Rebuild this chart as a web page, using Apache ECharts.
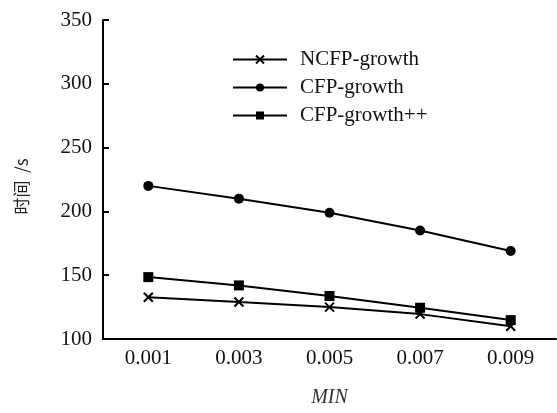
<!DOCTYPE html>
<html><head><meta charset="utf-8">
<script src="https://cdn.jsdelivr.net/npm/echarts@6/dist/echarts.min.js"></script>
<style>html,body{margin:0;padding:0;background:#fff}#c{width:557px;height:413px}</style>
</head><body><div id="c"></div>
<script>
var categories = ['0.001','0.003','0.005','0.007','0.009'];
var ncfp = [132.7, 129, 125, 119.5, 110];
var cfp = [220, 210, 199, 185, 169];
var cfppp = [148.5, 142, 133.7, 124.5, 114.8];
var seriesNames = ['NCFP-growth','CFP-growth','CFP-growth++'];

var chart = echarts.init(document.getElementById('c'));
var serif = '"Liberation Serif", "Times New Roman", serif';
function mk(name, data, symbol, size, extra) {
  return Object.assign({
    name: name, type: 'line', data: data, symbol: symbol, symbolSize: size,
    showAllSymbol: true,
    lineStyle: {color: '#000', width: 2},
    itemStyle: {color: '#000', borderColor: '#000', borderWidth: 0},
    z: 3
  }, extra || {});
}
chart.setOption({
  animation: false,
  grid: {left: 103, right: 1, top: 20, bottom: 67},
  legend: {
    orient: 'vertical', left: 227, top: 44,
    itemWidth: 54, itemHeight: 10, itemGap: 7,
    textStyle: {fontFamily: serif, fontSize: 21, color: '#111', padding: [0, 0, 0, 8]},
    data: seriesNames
  },
  xAxis: {
    type: 'category', data: categories, boundaryGap: true,
    name: 'MIN', nameLocation: 'middle', nameGap: 49,
    nameTextStyle: {fontFamily: serif, fontStyle: 'italic', fontSize: 20, color: '#333'},
    axisLine: {lineStyle: {color: '#000', width: 2}},
    axisTick: {alignWithLabel: true, inside: true, length: 6, lineStyle: {color: '#000', width: 2}},
    axisLabel: {fontFamily: serif, fontSize: 21, color: '#111', margin: 9},
    splitLine: {show: false}
  },
  yAxis: {
    type: 'value', min: 100, max: 350, interval: 50,
    name: '时间  /s', nameLocation: 'middle', nameGap: 73, nameRotate: 90,
    nameTextStyle: {fontFamily: '"Noto Sans CJK SC", sans-serif', fontSize: 17, color: '#222', padding: [0, 14, 0, 0]},
    axisLine: {show: true, lineStyle: {color: '#000', width: 2}},
    axisTick: {show: true, inside: true, length: 6, lineStyle: {color: '#000', width: 2}},
    axisLabel: {fontFamily: serif, fontSize: 21, color: '#111', margin: 11},
    splitLine: {show: false}
  },
  series: [
    mk(seriesNames[0], ncfp, 'path://M0,0L10,10M10,0L0,10', 9, {itemStyle: {color: 'none', borderColor: '#000', borderWidth: 2}}),
    mk(seriesNames[1], cfp, 'circle', 10),
    mk(seriesNames[2], cfppp, 'rect', 10)
  ]
});
</script></body></html>
